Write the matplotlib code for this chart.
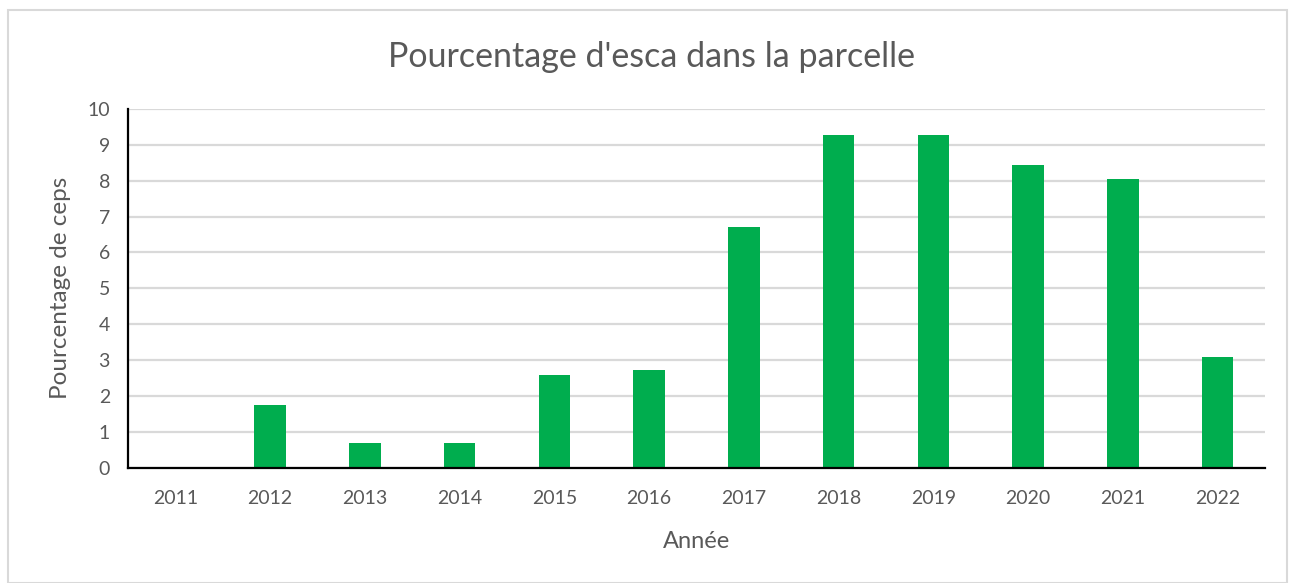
import matplotlib
matplotlib.use("Agg")
import matplotlib.pyplot as plt
from matplotlib.patches import Rectangle

# Data
years = ["2011", "2012", "2013", "2014", "2015", "2016",
         "2017", "2018", "2019", "2020", "2021", "2022"]
pct_esca = [0, 1.74, 0.70, 0.70, 2.59, 2.72, 6.71, 9.28, 9.28, 8.43, 8.05, 3.10]

plt.rcParams['font.family'] = ['Lato', 'DejaVu Sans']
text_color = "#595959"

fig = plt.figure(figsize=(12.95, 5.83), dpi=100)
fig.patch.set_facecolor("white")

# light frame around the chart
fig.patches.append(Rectangle((8 / 1295, 0), 1279 / 1295, 573 / 583,
                             transform=fig.transFigure, fill=False,
                             edgecolor="#d9d9d9", linewidth=1.5))

ax = fig.add_axes([128 / 1295, 1 - 467.7 / 583, 1137 / 1295, 358.7 / 583])
ax.bar(range(len(years)), pct_esca, width=0.33, color="#00ad4e", zorder=3)

ax.set_xlim(-0.5, len(years) - 0.5)
ax.set_ylim(0, 10)
ax.set_yticks(range(0, 11))
ax.set_xticks(range(len(years)))
ax.set_xticklabels(years)

ax.grid(axis="y", color="#d9d9d9", linewidth=1.6, zorder=0)
ax.set_axisbelow(True)

for side in ["top", "right"]:
    ax.spines[side].set_visible(False)
for side in ["left", "bottom"]:
    ax.spines[side].set_color("black")
    ax.spines[side].set_linewidth(1.6)
    ax.spines[side].set_zorder(4)

ax.tick_params(axis="both", length=0, labelsize=14, labelcolor=text_color)
ax.tick_params(axis="x", pad=16)
ax.tick_params(axis="y", pad=13)

ax.set_xlabel("Année", fontsize=17, color=text_color, labelpad=17)
ax.set_ylabel("Pourcentage de ceps", fontsize=17.5, color=text_color, labelpad=12)

fig.text(651 / 1295, 1 - 57 / 583, "Pourcentage d'esca dans la parcelle",
         ha="center", va="center", fontsize=24.5, color=text_color)

fig.savefig("out.png", dpi=100)
